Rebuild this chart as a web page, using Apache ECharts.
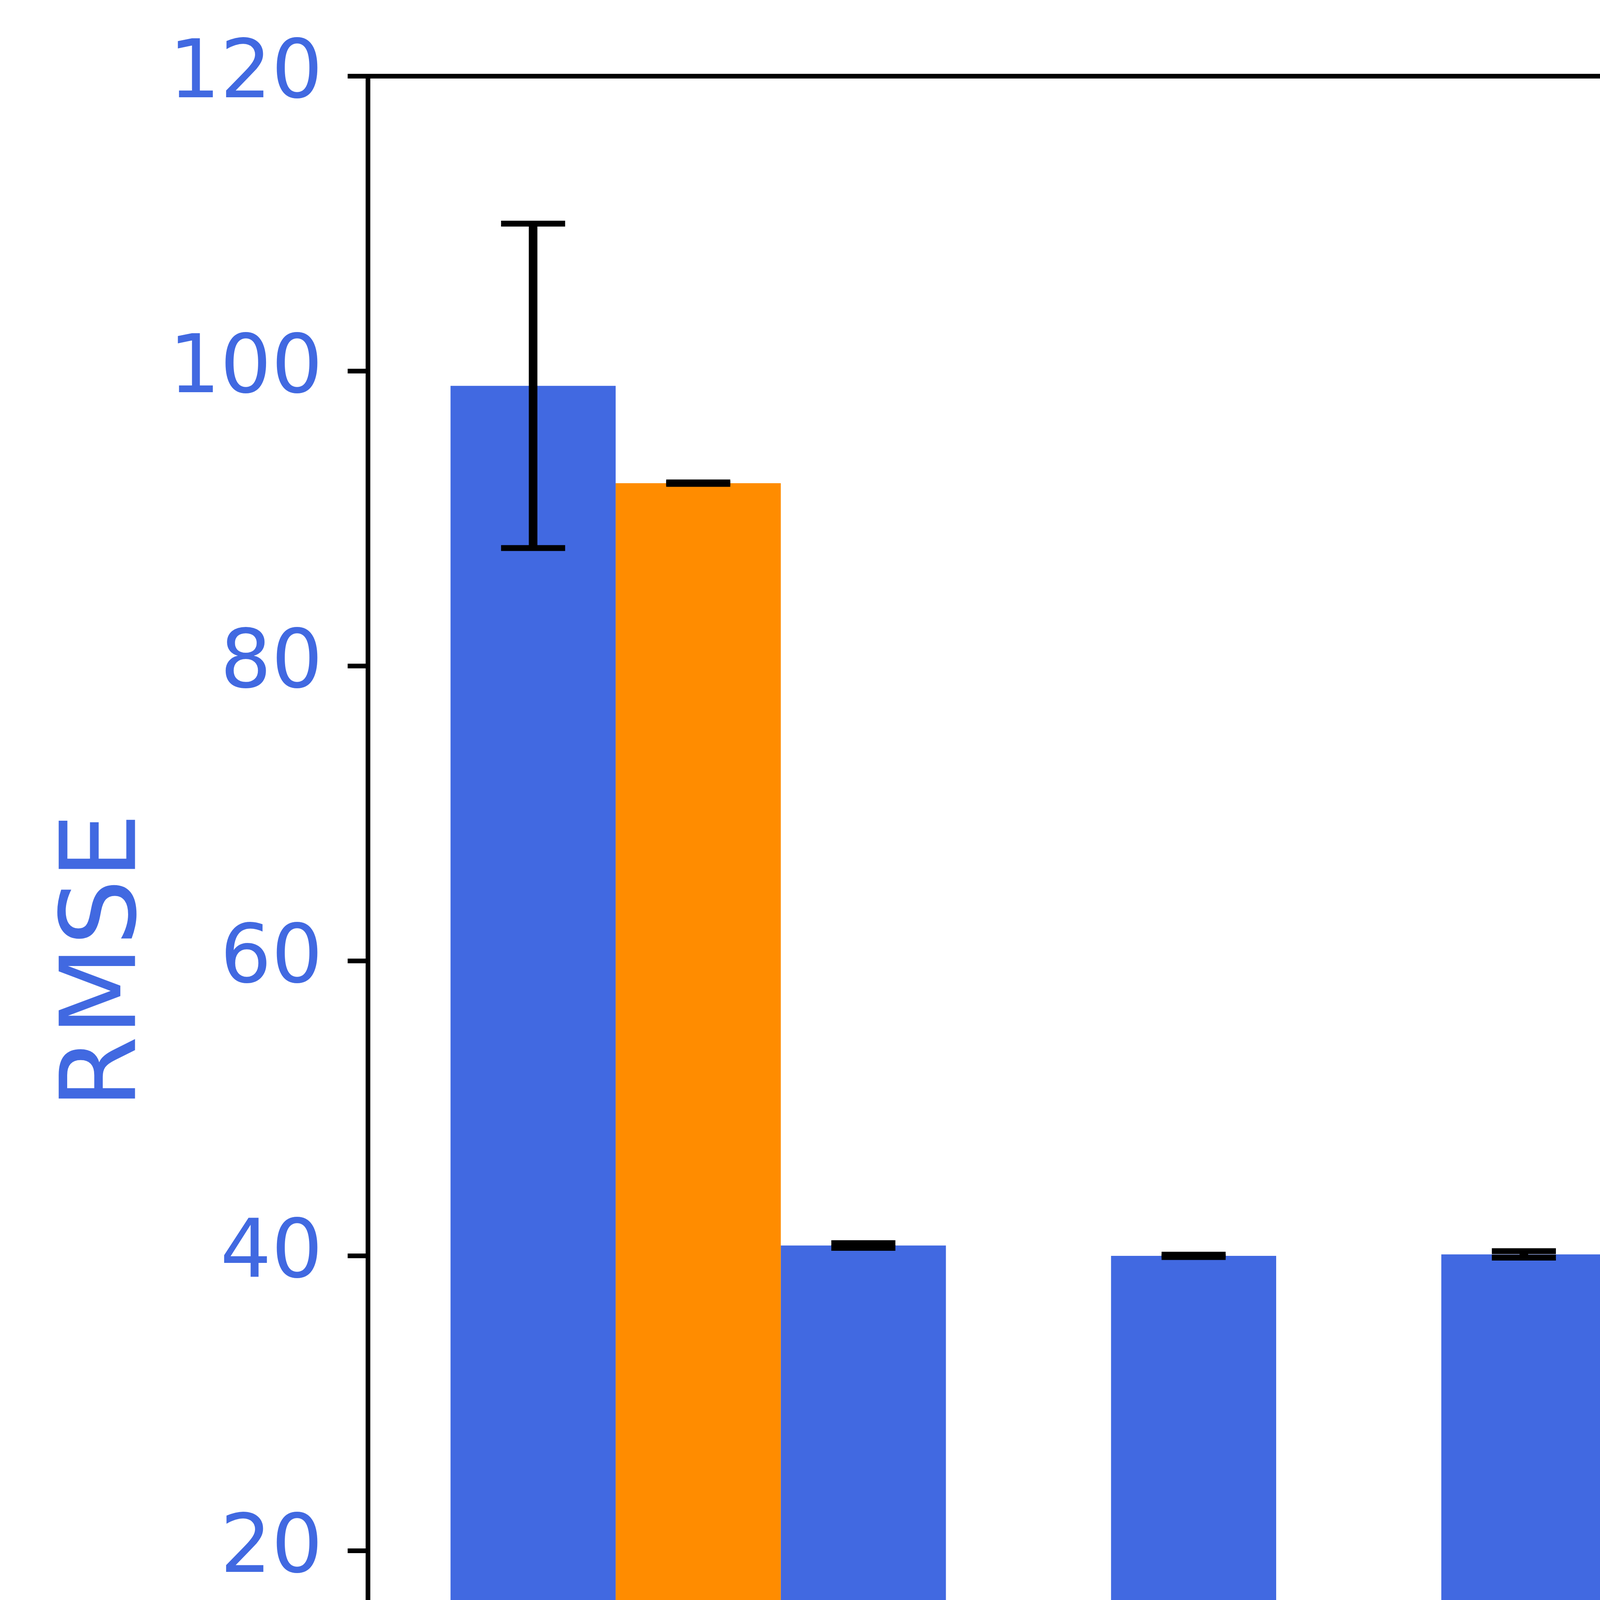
<!DOCTYPE html>
<html>
<head>
<meta charset="utf-8">
<title>RMSE / SMAPE</title>
<script src="https://cdn.jsdelivr.net/npm/echarts@6/dist/echarts.min.js"></script>
<style>
  html, body { margin: 0; padding: 0; background: #fff; overflow: hidden; }
  #main { width: 6406px; height: 5554px; }
</style>
<script type="text/javascript">
var categories = ['Baseline', '1st DV', '2nd DB', '3rd DW', '4th Rek'];
var rmse = [99.0, 40.7, 40.0, 40.1, 40.7];
var rmseErr = [11.0, 0.16, 0.08, 0.22, 0.02];
var smape = [38.5, 5.0, 0.78, 0.69, 1.66];
var smapeErr = [0.02, 0.07, 0.02, 0.02, 0.02];
var rmseTicks = [0, 120, 20];
var smapeTicks = [0, 50, 10];

var BLUE = '#4169E1';
var ORANGE = '#FF8C00';
var FONT = 'DejaVu Sans';
var TICK_FS = 206;
var NAME_FS = 268;

// bar from x+from to x+to (category units), height on its own y axis
function barItem(from, to, color) {
	return function(params, api) {
		var x = api.value(0);
		var p0 = api.coord([x + from, api.value(1)]);
		var p1 = api.coord([x + to, 0]);
		return {
			type: 'rect',
			shape: { x: p0[0], y: p0[1], width: p1[0] - p0[0], height: p1[1] - p0[1] },
			style: { fill: color }
		};
	};
}

function errItem(offset) {
	return function(params, api) {
		var x = api.value(0) + offset;
		var m = api.value(1), e = api.value(2);
		var top = api.coord([x, m + e]);
		var bot = api.coord([x, m - e]);
		var cap = 82;
		return {
			type: 'group',
			children: [
				{ type: 'line', shape: { x1: top[0], y1: top[1], x2: bot[0], y2: bot[1] }, style: { stroke: '#000', lineWidth: 22 } },
				{ type: 'line', shape: { x1: top[0] - cap, y1: top[1], x2: top[0] + cap, y2: top[1] }, style: { stroke: '#000', lineWidth: 15 } },
				{ type: 'line', shape: { x1: bot[0] - cap, y1: bot[1], x2: bot[0] + cap, y2: bot[1] }, style: { stroke: '#000', lineWidth: 15 } }
			]
		};
	};
}

window.onload = function() {
	var chart = echarts.init(document.getElementById('main'), null, { renderer: 'canvas' });

	// rotated labels: keep the tops of the rotated boxes in line,
	// longer labels get pushed down a bit
	var ctx = document.createElement('canvas').getContext('2d');
	ctx.font = TICK_FS + 'px "' + FONT + '"';
	var rich = {};
	for (var i = 0; i < categories.length; i++) {
		var d = ctx.measureText(categories[i]).width / 4;
		rich['c' + i] = { fontSize: TICK_FS, fontFamily: FONT, color: '#000', padding: [1.732 * d, d, 0, 0] };
	}

	var rmseData = [], smapeData = [], rmseErrData = [], smapeErrData = [];
	for (var k = 0; k < categories.length; k++) {
		rmseData.push([k, rmse[k]]);
		smapeData.push([k, smape[k]]);
		rmseErrData.push([k, rmse[k], rmseErr[k]]);
		smapeErrData.push([k, smape[k], smapeErr[k]]);
	}

	var axisLine = { show: true, onZero: false, lineStyle: { color: '#000', width: 12 } };
	var axisTick = { show: true, length: 52, lineStyle: { color: '#000', width: 12 } };

	var option = {
		animation: false,
		backgroundColor: '#fff',
		grid: { left: 942, right: 814, top: 195, bottom: 829, containLabel: false },
		xAxis: [{
			type: 'value',
			position: 'bottom',
			min: -0.75,
			max: 4.75,
			axisLine: axisLine,
			axisTick: { show: true, length: 52, lineStyle: { color: '#000', width: 12 }, customValues: [0, 1, 2, 3, 4] },
			axisLabel: {
				customValues: [0, 1, 2, 3, 4],
				rotate: 30,
				align: 'center',
				verticalAlign: 'middle',
				margin: 207,
				fontSize: TICK_FS,
				fontFamily: FONT,
				color: '#000',
				rich: rich,
				formatter: function(v) {
					var i = Math.round(v);
					return '{c' + i + '|' + categories[i] + '}';
				}
			},
			splitLine: { show: false }
		}, {
			type: 'value',
			position: 'top',
			min: -0.75,
			max: 4.75,
			axisLine: axisLine,
			axisTick: { show: false },
			axisLabel: { show: false },
			splitLine: { show: false }
		}],
		yAxis: [{
			type: 'value',
			position: 'left',
			min: rmseTicks[0],
			max: rmseTicks[1],
			interval: rmseTicks[2],
			name: 'RMSE',
			nameLocation: 'middle',
			nameGap: 532,
			nameTextStyle: { fontSize: NAME_FS, fontFamily: FONT, color: BLUE },
			axisLine: axisLine,
			axisTick: axisTick,
			axisLabel: { margin: 116, fontSize: TICK_FS, fontFamily: FONT, color: BLUE },
			splitLine: { show: false }
		}, {
			type: 'value',
			position: 'right',
			min: smapeTicks[0],
			max: smapeTicks[1],
			interval: smapeTicks[2],
			name: 'SMAPE',
			nameLocation: 'middle',
			nameGap: 455,
			nameTextStyle: { fontSize: NAME_FS, fontFamily: FONT, color: ORANGE },
			axisLine: axisLine,
			axisTick: axisTick,
			axisLabel: { margin: 116, fontSize: TICK_FS, fontFamily: FONT, color: ORANGE },
			splitLine: { show: false }
		}],
		series: [{
			name: 'RMSE', type: 'custom', xAxisIndex: 0, yAxisIndex: 0,
			renderItem: barItem(-0.5, 0, BLUE), data: rmseData, z: 2
		}, {
			name: 'SMAPE', type: 'custom', xAxisIndex: 0, yAxisIndex: 1,
			renderItem: barItem(0, 0.5, ORANGE), data: smapeData, z: 2
		}, {
			name: 'RMSE err', type: 'custom', xAxisIndex: 0, yAxisIndex: 0,
			renderItem: errItem(-0.25), data: rmseErrData, z: 3
		}, {
			name: 'SMAPE err', type: 'custom', xAxisIndex: 0, yAxisIndex: 1,
			renderItem: errItem(0.25), data: smapeErrData, z: 3
		}]
	};
	chart.setOption(option);
};
</script>
</head>
<body>
<div id="main"></div>
</body>
</html>
